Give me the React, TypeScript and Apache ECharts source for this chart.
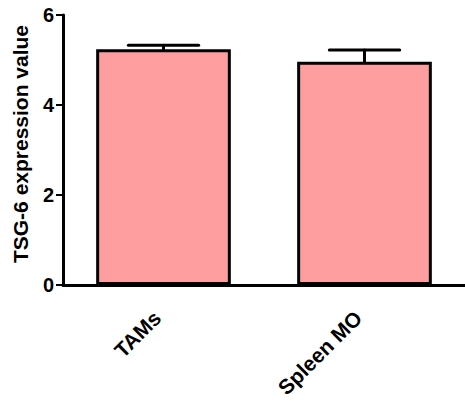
import React, { useEffect, useRef } from "react";
import * as echarts from "echarts";

const categories = ["TAMs", "Spleen MO"];
const means = [5.24, 4.96];
const errors = [0.09, 0.26];
const yTicks = [0, 2, 4, 6];

export default function App() {
  const ref = useRef<HTMLDivElement>(null);
  useEffect(() => {
    if (!ref.current) return;
    const chart = echarts.init(ref.current, null, { renderer: "svg" });
    const font = "Liberation Sans, Arial, sans-serif";
    chart.setOption({
      animation: false,
      grid: { left: 63, top: 15, right: 0, bottom: 120 },
      xAxis: {
        type: "category",
        data: categories,
        axisLine: { lineStyle: { color: "#000", width: 3 } },
        axisTick: { alignWithLabel: true, length: 8, lineStyle: { color: "#000", width: 2 } },
        axisLabel: {
          rotate: 45,
          color: "#000",
          fontWeight: "bold",
          fontSize: 21,
          fontFamily: font,
          margin: 23,
          padding: [0, 9, 0, 0],
        },
      },
      yAxis: {
        type: "value",
        min: yTicks[0],
        max: yTicks[yTicks.length - 1],
        interval: 2,
        name: "TSG-6 expression value",
        nameLocation: "middle",
        nameGap: 32,
        nameTextStyle: {
          color: "#000",
          fontWeight: "bold",
          fontSize: 21,
          fontFamily: font,
          padding: [0, 0, 0, 12],
        },
        axisLine: { show: true, lineStyle: { color: "#000", width: 3 } },
        axisTick: { show: true, length: 7, lineStyle: { color: "#000", width: 2 } },
        splitLine: { show: false },
        axisLabel: { color: "#000", fontWeight: "bold", fontSize: 20, fontFamily: font, margin: 9 },
      },
      series: [
        {
          type: "bar",
          data: means,
          barWidth: "67%",
          itemStyle: { color: "#FF9E9E", borderColor: "#000", borderWidth: 3 },
          z: 2,
        },
        {
          type: "custom",
          z: 3,
          data: means.map((m, i) => [i, m, m + errors[i]]),
          renderItem: (params: any, api: any) => {
            const x = api.value(0);
            const lo = api.coord([x, api.value(1)]);
            const hi = api.coord([x, api.value(2)]);
            const half = api.size([1, 0])[0] * 0.175;
            const style = { stroke: "#000", lineWidth: 3, lineCap: "round" };
            return {
              type: "group",
              children: [
                { type: "line", shape: { x1: lo[0], y1: lo[1], x2: hi[0], y2: hi[1] }, style },
                { type: "line", shape: { x1: hi[0] - half, y1: hi[1], x2: hi[0] + half, y2: hi[1] }, style },
              ],
            };
          },
        },
      ],
    });
    return () => chart.dispose();
  }, []);
  return (
    <div
      ref={ref}
      style={{ position: "absolute", left: 0, top: 0, width: 465, height: 405 }}
    />
  );
}
